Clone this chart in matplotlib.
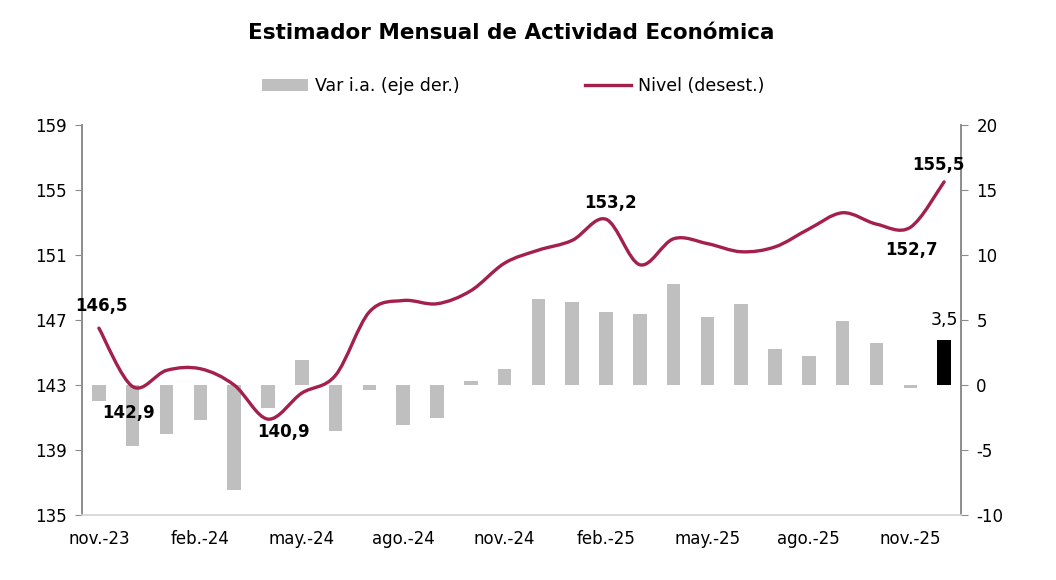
import matplotlib.pyplot as plt
import numpy as np
from matplotlib.path import Path
from matplotlib.patches import PathPatch, Patch
from matplotlib.lines import Line2D

plt.rcParams['font.family'] = ['DejaVu Sans']
plt.rcParams['axes.unicode_minus'] = False

meses = ['nov.-23', 'dic.-23', 'ene.-24', 'feb.-24', 'mar.-24', 'abr.-24', 'may.-24',
         'jun.-24', 'jul.-24', 'ago.-24', 'sep.-24', 'oct.-24', 'nov.-24', 'dic.-24',
         'ene.-25', 'feb.-25', 'mar.-25', 'abr.-25', 'may.-25', 'jun.-25', 'jul.-25',
         'ago.-25', 'sep.-25', 'oct.-25', 'nov.-25', 'dic.-25']
var_ia = [-1.2, -4.7, -3.8, -2.7, -8.1, -1.8, 1.9, -3.5, -0.4, -3.1, -2.5, 0.3, 1.2,
          6.6, 6.4, 5.6, 5.5, 7.8, 5.2, 6.2, 2.8, 2.2, 4.9, 3.2, -0.2, 3.5]
nivel = [146.5, 142.9, 143.9, 144.0, 143.0, 140.9, 142.5, 143.6, 147.5, 148.2, 148.0,
         148.8, 150.5, 151.3, 151.9, 153.2, 150.4, 152.0, 151.7, 151.2, 151.5, 152.6,
         153.6, 152.9, 152.7, 155.5]

rojo = '#A3204A'
gris = '#BFBFBF'
eje = '#8C8C8C'

x = np.arange(len(meses))

fig = plt.figure(figsize=(10.56, 5.8), dpi=100)
ax = fig.add_axes([82/1056, 1 - 515/580, 879/1056, 390/580])
ax2 = ax.twinx()

# barras (eje derecho)
colores = [gris] * (len(var_ia) - 1) + ['black']
ax.bar(x, var_ia, width=0.4, color=colores, zorder=2)
ax.set_ylim(-10, 20)
ax.set_yticks(range(-10, 21, 5))
ax.yaxis.tick_right()
ax.set_xlim(-0.5, len(meses) - 0.5)
ax.set_xticks(x[::3])
ax.set_xticklabels(meses[::3])
ax.tick_params(axis='x', length=0, pad=11, labelsize=12)
ax.tick_params(axis='y', length=5, color=eje, labelsize=12, pad=6)

# nivel (eje izquierdo), linea suavizada
pts = np.column_stack([x, nivel]).astype(float)
verts = [tuple(pts[0])]
codes = [Path.MOVETO]
n = len(pts)
for i in range(n - 1):
    p0 = pts[max(i - 1, 0)]
    p1 = pts[i]
    p2 = pts[i + 1]
    p3 = pts[min(i + 2, n - 1)]
    c1 = p1 + (p2 - p0) / 6
    c2 = p2 - (p3 - p1) / 6
    verts += [tuple(c1), tuple(c2), tuple(p2)]
    codes += [Path.CURVE4] * 3
ax2.add_patch(PathPatch(Path(verts, codes), fill=False, edgecolor=rojo, lw=2.4,
                        capstyle='round', zorder=3))
ax2.set_ylim(135, 159)
ax2.set_yticks(range(135, 160, 4))
ax2.yaxis.tick_left()
ax2.tick_params(axis='y', length=5, color=eje, labelsize=12, pad=6)

for a in (ax, ax2):
    a.spines['top'].set_visible(False)
    a.spines['left'].set_color(eje)
    a.spines['right'].set_color(eje)
    a.spines['left'].set_linewidth(1.2)
    a.spines['right'].set_linewidth(1.2)
    a.spines['bottom'].set_color('#D9D9D9')
    a.spines['bottom'].set_linewidth(1.2)

# etiquetas
etiquetas = {0: (2, 16), 1: (-3, -19), 5: (11.5, -9.5), 15: (3, 12), 24: (1, -16.5), 25: (-4, 12)}
for i, (dx, dy) in etiquetas.items():
    ax2.annotate(f'{nivel[i]:.1f}'.replace('.', ','), (x[i], nivel[i]), xytext=(dx, dy),
                 textcoords='offset points', ha='center', va='center',
                 fontsize=12, fontweight='bold', zorder=5)
ax.annotate(f'{var_ia[-1]:.1f}'.replace('.', ','), (x[-1], var_ia[-1]), xytext=(0, 14),
            textcoords='offset points', ha='center', va='center', fontsize=12.5)

fig.text(511/1056, 1 - 33/580, 'Estimador Mensual de Actividad Económica',
         ha='center', va='center', fontsize=15.5, fontweight='bold')

handles = [Patch(facecolor=gris, label='Var i.a. (eje der.)'),
           Line2D([], [], color=rojo, lw=2.4, label='Nivel (desest.)')]
fig.legend(handles=handles, loc='center', bbox_to_anchor=(513/1056, 1 - 86/580), ncol=2,
           frameon=False, fontsize=12.5, handlelength=2.65, handleheight=0.7,
           columnspacing=7.2, handletextpad=0.4)

plt.savefig('out.png', dpi=100)
